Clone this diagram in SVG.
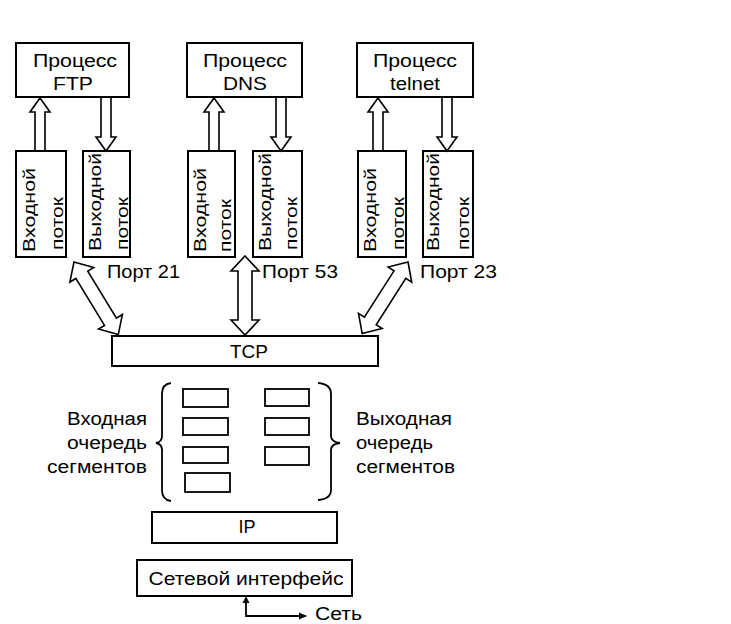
<svg xmlns="http://www.w3.org/2000/svg" width="731" height="624" viewBox="0 0 731 624">
<style>
.b{fill:none;stroke:#000;stroke-width:2}
.a{fill:none;stroke:#000;stroke-width:1.6;stroke-linejoin:miter}
.l{fill:none;stroke:#000;stroke-width:1.8}
.t{font-family:"Liberation Sans",Arial,sans-serif;font-size:18px;fill:#000}
.v{font-family:"Liberation Sans",Arial,sans-serif;font-size:17px;fill:#000}
</style>
<defs>
<marker id="ah" markerWidth="8" markerHeight="8" refX="7" refY="4" orient="auto" markerUnits="userSpaceOnUse">
<path d="M0,0.5 L8,4 L0,7.5 Z" fill="#000"/>
</marker>
</defs>
<rect width="731" height="624" fill="#fff"/>

<g id="proc-ftp">
<rect class="b" x="16" y="43" width="113" height="54"/>
<text class="t" x="75" y="67" text-anchor="middle" textLength="84" lengthAdjust="spacingAndGlyphs">Процесс</text>
<text class="t" x="73" y="90" text-anchor="middle" textLength="40" lengthAdjust="spacingAndGlyphs">FTP</text>
</g>
<g id="proc-dns">
<rect class="b" x="187" y="43" width="115" height="54"/>
<text class="t" x="245" y="67" text-anchor="middle" textLength="84" lengthAdjust="spacingAndGlyphs">Процесс</text>
<text class="t" x="245" y="90" text-anchor="middle" textLength="44" lengthAdjust="spacingAndGlyphs">DNS</text>
</g>
<g id="proc-telnet">
<rect class="b" x="357" y="43" width="116" height="54"/>
<text class="t" x="415" y="67" text-anchor="middle" textLength="84" lengthAdjust="spacingAndGlyphs">Процесс</text>
<text class="t" x="415" y="90" text-anchor="middle" textLength="50" lengthAdjust="spacingAndGlyphs">telnet</text>
</g>

<g id="ftp-in">
<rect class="b" x="16" y="151" width="50" height="106"/>
<text class="v" transform="translate(35,252) rotate(-90)" textLength="84" lengthAdjust="spacingAndGlyphs">Входной</text>
<text class="v" transform="translate(63,250) rotate(-90)" textLength="53" lengthAdjust="spacingAndGlyphs">поток</text>
</g>
<g id="ftp-out">
<rect class="b" x="83" y="151" width="47" height="106"/>
<text class="v" transform="translate(101,251) rotate(-90)" textLength="98" lengthAdjust="spacingAndGlyphs">Выходной</text>
<text class="v" transform="translate(128,250) rotate(-90)" textLength="53" lengthAdjust="spacingAndGlyphs">поток</text>
</g>
<g id="dns-in">
<rect class="b" x="188" y="151" width="47" height="106"/>
<text class="v" transform="translate(206,252) rotate(-90)" textLength="84" lengthAdjust="spacingAndGlyphs">Входной</text>
<text class="v" transform="translate(231,252) rotate(-90)" textLength="53" lengthAdjust="spacingAndGlyphs">поток</text>
</g>
<g id="dns-out">
<rect class="b" x="253" y="151" width="49" height="106"/>
<text class="v" transform="translate(271,251) rotate(-90)" textLength="98" lengthAdjust="spacingAndGlyphs">Выходной</text>
<text class="v" transform="translate(297,250) rotate(-90)" textLength="53" lengthAdjust="spacingAndGlyphs">поток</text>
</g>
<g id="telnet-in">
<rect class="b" x="358" y="151" width="48" height="106"/>
<text class="v" transform="translate(376,252) rotate(-90)" textLength="84" lengthAdjust="spacingAndGlyphs">Входной</text>
<text class="v" transform="translate(404,250) rotate(-90)" textLength="53" lengthAdjust="spacingAndGlyphs">поток</text>
</g>
<g id="telnet-out">
<rect class="b" x="423" y="151" width="50" height="106"/>
<text class="v" transform="translate(439,251) rotate(-90)" textLength="98" lengthAdjust="spacingAndGlyphs">Выходной</text>
<text class="v" transform="translate(469,250) rotate(-90)" textLength="53" lengthAdjust="spacingAndGlyphs">поток</text>
</g>

<g id="port-labels">
<text class="t" x="107" y="278" textLength="73" lengthAdjust="spacingAndGlyphs">Порт 21</text>
<text class="t" x="262" y="278" textLength="76" lengthAdjust="spacingAndGlyphs">Порт 53</text>
<text class="t" x="420" y="278" textLength="77" lengthAdjust="spacingAndGlyphs">Порт 23</text>
</g>

<g id="tcp">
<rect class="b" x="112" y="336" width="266" height="30"/>
<text class="t" x="249" y="358" text-anchor="middle" textLength="38" lengthAdjust="spacingAndGlyphs">TCP</text>
</g>

<g id="in-queue">
<text class="t" x="147" y="425" text-anchor="end" textLength="80" lengthAdjust="spacingAndGlyphs">Входная</text>
<text class="t" x="147" y="449" text-anchor="end" textLength="80" lengthAdjust="spacingAndGlyphs">очередь</text>
<text class="t" x="147" y="473" text-anchor="end" textLength="100" lengthAdjust="spacingAndGlyphs">сегментов</text>
<path class="l" d="M171,383 Q162,384 162,394 L162,436 Q162,442 156,443 Q162,444 162,450 L162,490 Q162,500 171,501"/>
<rect class="l" x="183" y="389" width="45" height="18"/>
<rect class="l" x="183" y="418" width="45" height="17"/>
<rect class="l" x="183" y="447" width="45" height="16"/>
<rect class="l" x="185" y="473" width="45" height="19"/>
</g>

<g id="out-queue">
<rect class="l" x="265" y="389" width="44" height="17"/>
<rect class="l" x="265" y="418" width="44" height="17"/>
<rect class="l" x="265" y="447" width="44" height="18"/>
<path class="l" d="M318,383 Q331,384 331,394 L331,436 Q331,442 340,443 Q331,444 331,450 L331,490 Q331,499 318,500"/>
<text class="t" x="356" y="425" textLength="96" lengthAdjust="spacingAndGlyphs">Выходная</text>
<text class="t" x="356" y="449" textLength="77" lengthAdjust="spacingAndGlyphs">очередь</text>
<text class="t" x="356" y="473" textLength="99" lengthAdjust="spacingAndGlyphs">сегментов</text>
</g>

<g id="ip">
<rect class="b" x="152" y="512" width="185" height="31"/>
<text class="t" x="247" y="533" text-anchor="middle" textLength="17" lengthAdjust="spacingAndGlyphs">IP</text>
</g>

<g id="netif">
<rect class="b" x="137" y="560" width="215" height="36"/>
<text class="t" x="246" y="585" text-anchor="middle" textLength="195" lengthAdjust="spacingAndGlyphs">Сетевой интерфейс</text>
</g>

<g id="net-label">
<text class="t" x="315" y="620" textLength="47" lengthAdjust="spacingAndGlyphs">Сеть</text>
</g>

<g id="connectors">
<polygon class="a" points="40,98 50,112 45,112 45,151 35,151 35,112 30,112"/>
<polygon class="a" points="106,151 116,137 111,137 111,97 101,97 101,137 96,137"/>
<polygon class="a" points="214,98 224,112 219,112 219,151 209,151 209,112 204,112"/>
<polygon class="a" points="281,151 291,137 286,137 286,97 276,97 276,137 271,137"/>
<polygon class="a" points="378,98 388,112 383,112 383,151 373,151 373,112 368,112"/>
<polygon class="a" points="447,151 457,137 452,137 452,97 442,97 442,137 437,137"/>
<polygon class="a" points="245,256 259,271 252,271 252,320 259,320 245,335 231,320 238,320 238,271 231,271"/>
<g transform="translate(74,262) rotate(58.6)">
<polygon class="a" points="0,0 15,-14 15,-7 70,-7 70,-14 85,0 70,14 70,7 15,7 15,14"/>
</g>
<g transform="translate(408,262) rotate(122.6)">
<polygon class="a" points="0,0 15,-14 15,-7 70,-7 70,-14 85,0 70,14 70,7 15,7 15,14"/>
</g>
<path class="l" d="M246,598 L246,616 L306,616" marker-end="url(#ah)"/>
<path d="M246,596 L242.5,603 L249.5,603 Z" fill="#000"/>
</g>
</svg>
